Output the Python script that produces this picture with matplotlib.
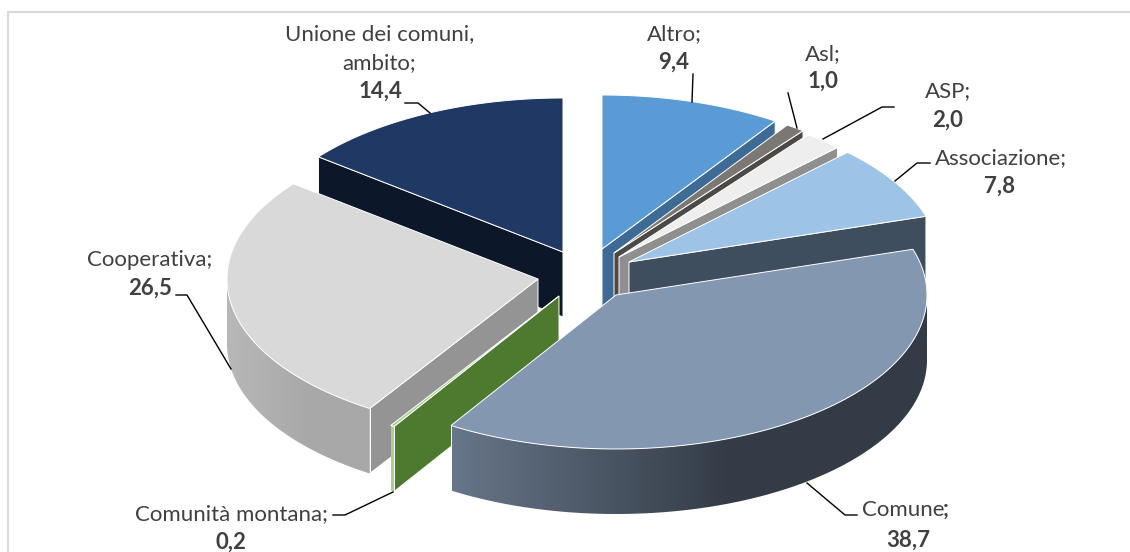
import numpy as np
import matplotlib
matplotlib.use("Agg")
import matplotlib.pyplot as plt
from matplotlib.colors import to_rgb
from matplotlib.patches import Polygon, Rectangle

plt.rcParams['font.family'] = ['Lato', 'DejaVu Sans']

# data
categories = ['Altro', 'Asl', 'ASP', 'Associazione', 'Comune',
              'Comunità montana', 'Cooperativa', 'Unione dei comuni, ambito']
values = [9.4, 1.0, 2.0, 7.8, 38.7, 0.2, 26.5, 14.4]
value_labels = ['9,4', '1,0', '2,0', '7,8', '38,7', '0,2', '26,5', '14,4']

# style, one entry per slice
top_colors = ['#5b9bd5', '#7b7772', '#eeeeee', '#9dc3e6', '#8497b0', '#a9d18e', '#d9d9d9', '#1f3864']
wall_colors = ['#3d6b96', '#4c4a47', '#8f8f8f', '#3f4e5e', '#333b46', '#4e7a2f', '#949494', '#0c1729']
rim_colors = [None, None, None, None, ('#677689', '#333b46'), ('#a9d18e', '#a9d18e'),
              ('#b8b8b8', '#a8a8a8'), None]
# apex of every exploded slice, in pixels
apex_x = [602, 614, 619, 629, 616, 559, 538, 563]
apex_y = [249, 253, 257, 262, 295, 296, 279, 252]
RX, RY, DEPTH = 311, 154, 65
draw_order = [0, 1, 2, 3, 7, 6, 5, 4]

# label text, centre x, baseline y
label_lines = [
    ('Unione dei comuni,', 379.5, 40, 'normal'), ('ambito;', 379.5, 69, 'normal'), ('14,4', 380, 98, 'bold'),
    ('Altro;', 674, 40, 'normal'), ('9,4', 674, 69, 'bold'),
    ('Asl;', 823, 60, 'normal'), ('1,0', 823, 88, 'bold'),
    ('ASP;', 948, 97, 'normal'), ('2,0', 948, 127, 'bold'),
    ('Associazione;', 1001, 164, 'normal'), ('7,8', 1000, 193, 'bold'),
    ('Cooperativa;', 150, 266, 'normal'), ('26,5', 150, 295, 'bold'),
    ('38,7', 908, 547, 'bold'),
    ('Comunità montana;', 231, 520, 'normal'), ('0,2', 231, 549, 'bold'),
]

leaders = [
    [(405, 103), (418, 103), (430, 113)],
    [(693, 74), (692, 102)],
    [(788, 93), (797, 128)],
    [(894, 107), (882, 107), (823, 139)],
    [(930, 163), (917, 163), (895, 181)],
    [(176, 295), (187, 295), (231, 369)],
    [(807, 483), (845, 515), (857, 515)],
    [(333, 515), (345, 515), (393, 492)],
]

FONT_SIZE = 16

fig = plt.figure(figsize=(11.3, 5.52), dpi=100)
ax = fig.add_axes([0, 0, 1, 1])
ax.axis('off')

# chart frame runs off the picture on the right and at the bottom
ax.add_patch(Rectangle((8, 12), 1300, 700, fc='white', ec='#d9d9d9', lw=1.5, zorder=0))


def rim_point(cx, cy, angle):
    return cx + RX * np.sin(angle), cy - RY * np.cos(angle)


# angles run clockwise from the top
bounds = 2 * np.pi * np.cumsum([0] + values) / np.sum(values)

z = 1
for i in draw_order:
    cx, cy = apex_x[i], apex_y[i]
    a0, a1 = bounds[i], bounds[i + 1]
    z += 1

    # radial wall that faces the viewer
    wall_angle = None
    if a1 < np.pi:
        wall_angle = a1
    elif a0 > np.pi:
        wall_angle = a0
    if wall_angle is not None:
        ox, oy = rim_point(cx, cy, wall_angle)
        ax.add_patch(Polygon([(cx, cy), (ox, oy), (ox, oy + DEPTH), (cx, cy + DEPTH)],
                             fc=wall_colors[i], ec='white', lw=0.7, zorder=z))

    # outer rim with left to right shading
    r0, r1 = max(a0, np.pi / 2), min(a1, 1.5 * np.pi)
    if rim_colors[i] is not None and r1 > r0:
        t = np.linspace(r0, r1, 120)
        xs, ys = rim_point(cx, cy, t)
        outline = np.r_[np.c_[xs, ys], np.c_[xs, ys + DEPTH][::-1]]
        clip = Polygon(outline, fc='none', ec='none', transform=ax.transData)
        ax.add_patch(clip)
        left, right = np.array(to_rgb(rim_colors[i][0])), np.array(to_rgb(rim_colors[i][1]))
        # shading reaches its dark end before the right side of the slice
        grad = np.clip(np.linspace(0, 1, 256) * 1.7, 0, 1)[None, :, None]
        img = left[None, None, :] * (1 - grad) + right[None, None, :] * grad
        im = ax.imshow(img, extent=(xs.min(), xs.max(), ys.max() + DEPTH, ys.min()), aspect='auto', zorder=z)
        im.set_clip_path(clip)
        edge_x, edge_y = rim_point(cx, cy, a0 if a0 > np.pi else a1)
        ax.plot([edge_x, edge_x], [edge_y, edge_y + DEPTH], color='white', lw=0.7, zorder=z)

    # top face
    t = np.linspace(a0, a1, 120)
    xs, ys = rim_point(cx, cy, t)
    ax.add_patch(Polygon(np.r_[[(cx, cy)], np.c_[xs, ys]], fc=top_colors[i], ec='white', lw=0.7, zorder=z))

for pts in leaders:
    xs, ys = zip(*pts)
    ax.plot(xs, ys, color='black', lw=1, zorder=50)

for text, x, y, weight in label_lines:
    ax.text(x, y, text, ha='center', va='baseline', fontsize=FONT_SIZE, fontweight=weight,
            color='#404040', zorder=60)
# the semicolon after Comune is bold in the original
ax.text(862, 516, 'Comune', ha='left', va='baseline', fontsize=FONT_SIZE, color='#404040', zorder=60)
ax.text(949, 516, ';', ha='right', va='baseline', fontsize=FONT_SIZE, fontweight='bold', color='#404040', zorder=60)

ax.set_xlim(0, 1130)
ax.set_ylim(552, 0)
fig.savefig('out.png', dpi=100)
